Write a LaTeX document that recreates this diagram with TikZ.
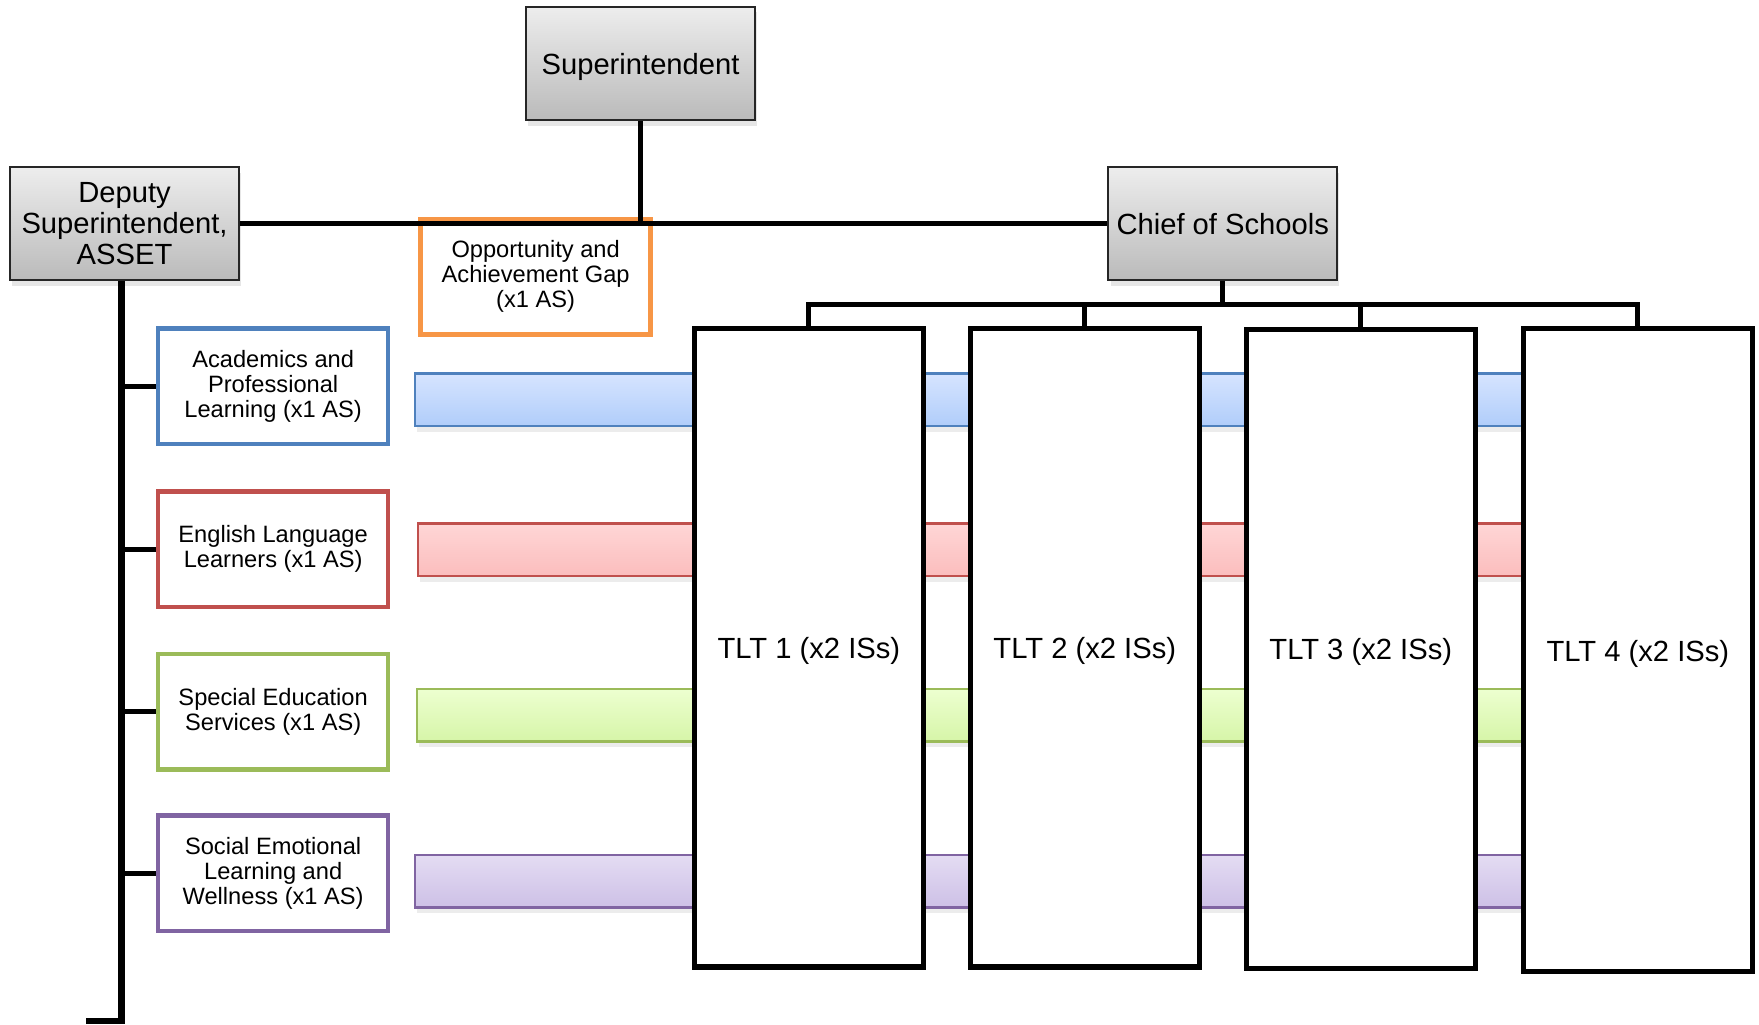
\documentclass[tikz,border=0pt]{standalone}
\usepackage{fontspec}
\setmainfont{Liberation Sans}
\usetikzlibrary{shadows}

\definecolor{aplblue}{HTML}{4F81BD}
\definecolor{ellred}{HTML}{C0504D}
\definecolor{sesgreen}{HTML}{9BBB59}
\definecolor{selpurple}{HTML}{8064A2}
\definecolor{oagorange}{HTML}{F79646}
\definecolor{apltop}{HTML}{D6E4FF}
\definecolor{aplbot}{HTML}{B0CDFA}
\definecolor{elltop}{HTML}{FFD6D6}
\definecolor{ellbot}{HTML}{FBBDBD}
\definecolor{sestop}{HTML}{EDFFD0}
\definecolor{sesbot}{HTML}{D6F5A8}
\definecolor{seltop}{HTML}{E4DCF3}
\definecolor{selbot}{HTML}{CDC0E6}

\tikzset{
  bigtext/.style={font=\fontsize{7.4}{7.8}\selectfont},
  smalltext/.style={font=\fontsize{6}{6.4}\selectfont},
  graybox/.style={draw=black!85, line width=0.5pt, top color=black!7, bottom color=black!27,
    minimum width=20.4mm, minimum height=10.1mm, inner sep=0pt, align=center, bigtext,
    drop shadow={opacity=0.2, shadow xshift=0.2mm, shadow yshift=-0.5mm}},
  unitbox/.style={draw=#1, fill=white, line width=0.4mm, minimum width=20.5mm,
    minimum height=10.3mm, inner sep=0pt, align=center, smalltext},
  band/.style n args={3}{draw=#1, line width=0.6pt, top color=#2, bottom color=#3,
    minimum width=98.8mm, minimum height=4.7mm, inner sep=0pt,
    drop shadow={opacity=0.15, shadow xshift=0.2mm, shadow yshift=-0.5mm}},
  tltbox/.style={draw, fill=white, line width=0.45mm, minimum width=20.4mm,
    minimum height=56.9mm, inner sep=0pt, text height=7.1pt, bigtext},
  conn/.style={line width=0.45mm},
  spine/.style={line width=0.6mm}
}

\begin{document}
\begin{tikzpicture}[x=0.1mm, y=-0.1mm]
\useasboundingbox (0,0) rectangle (1568,913);

\node[band={aplblue}{apltop}{aplbot}] (aplband) at (864,356.5) {};
\node[band={ellred}{elltop}{ellbot}] (ellband) at (866.5,490) {};
\node[band={sesgreen}{sestop}{sesbot}] (sesband) at (865.5,637.5) {};
\node[band={selpurple}{seltop}{selbot}] (selband) at (864,785.5) {};

\node[tltbox] (tlt1) at (721,577.5) {TLT 1 (x2 ISs)};
\node[tltbox] (tlt2) at (967,577.5) {TLT 2 (x2 ISs)};
\node[tltbox] (tlt3) at (1213,578.5) {TLT 3 (x2 ISs)};
\node[tltbox, minimum height=57.3mm] (tlt4) at (1460,579.5) {TLT 4 (x2 ISs)};

\node[graybox, text height=7.1pt] (sup) at (571,56.5) {Superintendent};
\node[graybox] (dep) at (111,199.5) {Deputy\\Superintendent,\\ASSET};
\node[graybox] (cos) at (1090,199.5) {Chief of Schools};

\node[unitbox=oagorange] (oag) at (477.5,246.5) {Opportunity and\\Achievement Gap\\(x1 AS)};
\node[unitbox=aplblue] (apl) at (243.5,344.5) {Academics and\\Professional\\Learning (x1 AS)};
\node[unitbox=ellred] (ell) at (243.5,489.5) {English Language\\Learners (x1 AS)};
\node[unitbox=sesgreen] (ses) at (243.5,634.5) {Special Education\\Services (x1 AS)};
\node[unitbox=selpurple] (sel) at (243.5,778.5) {Social Emotional\\Learning and\\Wellness (x1 AS)};

\draw[conn] (sup.south) -- (sup.south |- dep.east);
\draw[conn] (dep.east) -- (cos.west);

\coordinate (tail) at (77,910);
\draw[spine] ([xshift=-0.25mm]dep.south) |- (tail);
\draw[conn] ([xshift=-0.25mm]dep.south |- apl.west) -- (apl.west);
\draw[conn] ([xshift=-0.25mm]dep.south |- ell.west) -- (ell.west);
\draw[conn] ([xshift=-0.25mm]dep.south |- ses.west) -- (ses.west);
\draw[conn] ([xshift=-0.25mm]dep.south |- sel.west) -- (sel.west);

\coordinate (bus) at (1090,271);
\draw[conn] (cos.south) -- (bus);
\draw[conn] (tlt1.north) -- (tlt1.north |- bus) -- (tlt4.north |- bus) -- (tlt4.north);
\draw[conn] (tlt2.north) -- (tlt2.north |- bus);
\draw[conn] (tlt3.north) -- (tlt3.north |- bus);
\end{tikzpicture}
\end{document}
